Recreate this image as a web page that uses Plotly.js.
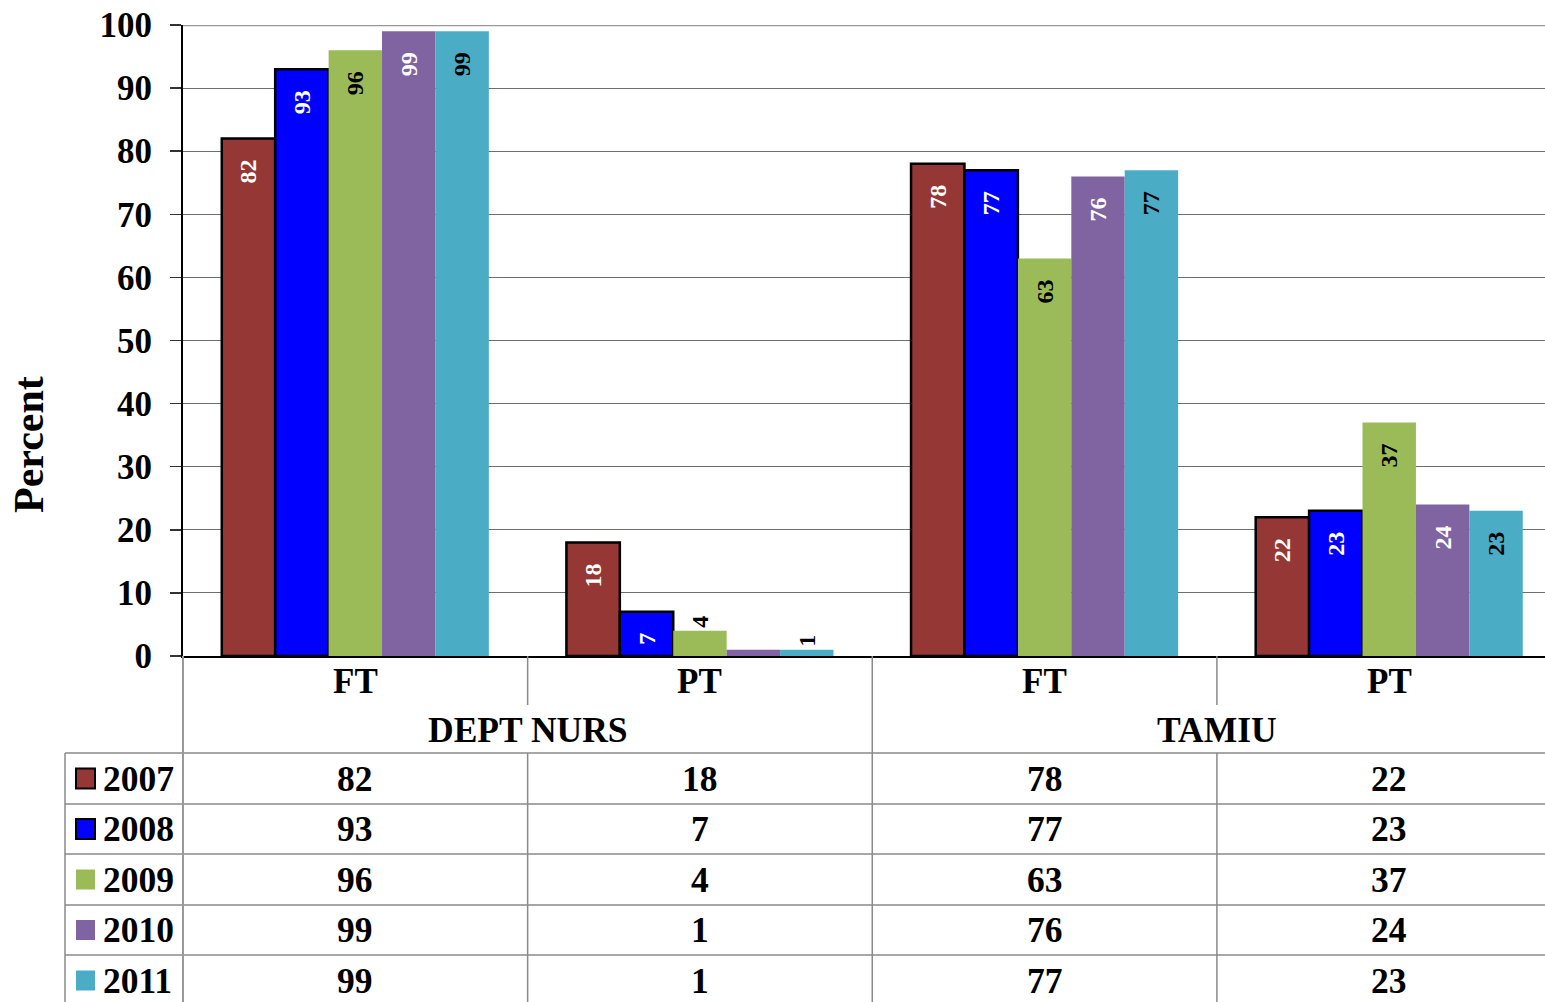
<!DOCTYPE html>
<html>
<head>
<meta charset="utf-8">
<script src="https://cdn.plot.ly/plotly-3.0.1.min.js"></script>
<style>html,body{margin:0;padding:0;background:#fff;overflow:hidden}</style>
</head>
<body>
<div id="chart" style="width:1545px;height:1002px"></div>
<script>
// ---- data ----
const groups = ['DEPT NURS', 'DEPT NURS', 'TAMIU', 'TAMIU'];
const status = ['FT', 'PT', 'FT', 'PT'];
const groupNames = ['DEPT NURS', 'TAMIU'];
const years = ['2007', '2008', '2009', '2010', '2011'];
const v2007 = [82, 18, 78, 22];
const v2008 = [93, 7, 77, 23];
const v2009 = [96, 4, 63, 37];
const v2010 = [99, 1, 76, 24];
const v2011 = [99, 1, 77, 23];
const yTicks = [0, 10, 20, 30, 40, 50, 60, 70, 80, 90, 100];
// bar labels not shown in the original chart: [year, category index]
const hiddenLabels = [['2010', 1]];

// ---- styles ----
const series = [v2007, v2008, v2009, v2010, v2011];
const colors = ['#953735', '#0000FF', '#9BBB59', '#8064A2', '#4BACC6'];
const outline = [2.5, 2.5, 0, 0, 0];
const labelColors = ['#FFFFFF', '#FFFFFF', '#000000', '#FFFFFF', '#000000'];
const FONT = 'Liberation Serif, Times New Roman, serif';
const NB = '\u00a0\u00a0\u00a0';

const W = 1545, H = 1002, L = 183, T = 25, B = 656, R = 1545;
const px = x => (x - L) / (R - L);
const py = y => (B - y) / (B - T);

const cats = groups.map((g, i) => g + ' ' + status[i]);

const traces = series.map((vals, s) => ({
  type: 'bar',
  name: years[s],
  x: cats,
  y: vals,
  text: vals.map((v, i) => hiddenLabels.some(h => h[0] === years[s] && h[1] === i) ? '' : String(v) + NB),
  textposition: 'auto',
  insidetextanchor: 'end',
  textangle: -90,
  insidetextfont: {family: FONT, size: 24, color: labelColors[s], weight: 'bold'},
  outsidetextfont: {family: FONT, size: 24, color: '#000', weight: 'bold'},
  cliponaxis: false,
  marker: {color: colors[s], line: {color: '#000', width: outline[s]}},
  hoverinfo: 'skip'
}));

const shapes = [];
const annotations = [];
const lineStyle = {color: '#8a8a8a', width: 1.5};

// top border
shapes.push({type: 'line', xref: 'paper', yref: 'y', x0: 0, x1: 1, y0: 100, y1: 100, line: {color: '#999', width: 2.5}, layer: 'below'});

// table horizontal lines
const rowLines = [753, 804, 854, 905, 955];
rowLines.forEach(y => shapes.push({type: 'line', xref: 'paper', yref: 'paper', x0: px(65), x1: 1, y0: py(y), y1: py(y), line: lineStyle}));
// left border of table
shapes.push({type: 'line', xref: 'paper', yref: 'paper', x0: px(65), x1: px(65), y0: py(753), y1: py(1002), line: lineStyle});
// left line below axis
shapes.push({type: 'line', xref: 'paper', yref: 'paper', x0: 0, x1: 0, y0: py(656), y1: py(1002), line: {color: '#999', width: 2}});
// category dividers
[0.5, 2.5].forEach(x => {
  shapes.push({type: 'line', xref: 'x', yref: 'paper', x0: x, x1: x, y0: py(656), y1: py(705), line: lineStyle});
  shapes.push({type: 'line', xref: 'x', yref: 'paper', x0: x, x1: x, y0: py(753), y1: py(1002), line: lineStyle});
});
shapes.push({type: 'line', xref: 'x', yref: 'paper', x0: 1.5, x1: 1.5, y0: py(656), y1: py(1002), line: lineStyle});

// status labels
status.forEach((s, i) => annotations.push({xref: 'x', yref: 'paper', x: i, y: py(681), text: s, showarrow: false,
  font: {family: FONT, size: 35, color: '#000', weight: 'bold'}, xanchor: 'center', yanchor: 'middle'}));
// group labels
groupNames.forEach((g, k) => annotations.push({xref: 'x', yref: 'paper', x: 2 * k + 0.5, y: py(730), text: g, showarrow: false,
  font: {family: FONT, size: 35.5, color: '#000', weight: 'bold'}, xanchor: 'center', yanchor: 'middle'}));

// table rows
const rowCenters = [778.5, 829, 879.5, 930, 980.5];
series.forEach((vals, s) => {
  const yc = rowCenters[s];
  shapes.push({type: 'rect', xref: 'paper', yref: 'paper', x0: px(76), x1: px(95), y0: py(yc - 10), y1: py(yc + 10),
    fillcolor: colors[s], line: {color: '#000', width: outline[s] > 0 ? 2 : 0}});
  annotations.push({xref: 'paper', yref: 'paper', x: px(101), y: py(yc), text: years[s], showarrow: false,
    font: {family: FONT, size: 35.5, color: '#000', weight: 'bold'}, xanchor: 'left', yanchor: 'middle'});
  vals.forEach((v, i) => annotations.push({xref: 'x', yref: 'paper', x: i, y: py(yc), text: String(v), showarrow: false,
    font: {family: FONT, size: 35.5, color: '#000', weight: 'bold'}, xanchor: 'center', yanchor: 'middle'}));
});

// y axis title
annotations.push({xref: 'paper', yref: 'paper', x: px(29), y: py(445), text: 'Percent', textangle: -90, showarrow: false,
  font: {family: FONT, size: 42, color: '#000', weight: 'bold'}, xanchor: 'center', yanchor: 'middle'});

const layout = {
  width: W, height: H,
  margin: {l: L, r: W - R, t: T, b: H - B, pad: 0},
  paper_bgcolor: '#fff', plot_bgcolor: '#fff',
  barmode: 'group', bargap: 0.225, bargroupgap: 0,
  showlegend: false,
  xaxis: {type: 'category', range: [-0.5, 3.452], showticklabels: false, ticks: '', showgrid: false,
    showline: true, linecolor: '#000', linewidth: 2, zeroline: false, fixedrange: true},
  yaxis: {range: [0, 100], tickvals: yTicks, ticktext: yTicks.map(String), ticks: 'outside', ticklen: 11, tickwidth: 1.5, tickcolor: '#333',
    tickfont: {family: FONT, size: 35, color: '#000', weight: 'bold'}, ticklabelstandoff: 11,
    showline: true, linecolor: '#000', linewidth: 2, showgrid: true, gridcolor: '#6e6e6e', gridwidth: 1,
    zeroline: false, fixedrange: true},
  shapes: shapes,
  annotations: annotations,
  uniformtext: {mode: false}
};

Plotly.newPlot('chart', traces, layout, {displayModeBar: false, staticPlot: true});
</script>
</body>
</html>
